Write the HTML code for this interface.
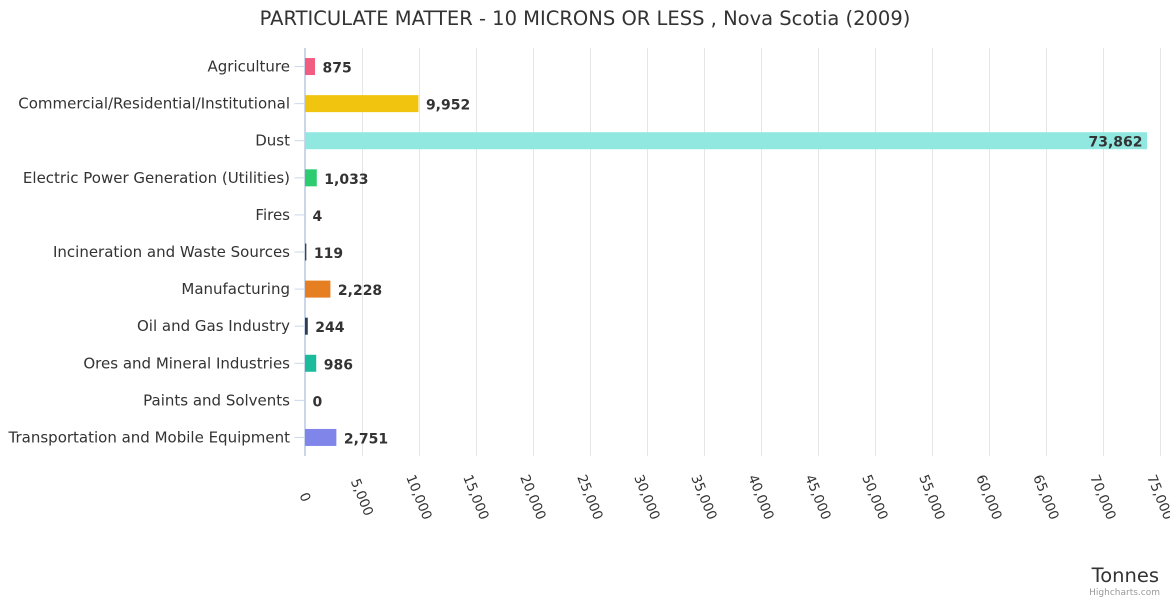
<!DOCTYPE html>
<html><head><meta charset="utf-8"><style>
body{margin:0;background:#fff;font-family:"Liberation Sans","DejaVu Sans",sans-serif}
svg text{font-family:"DejaVu Sans","Liberation Sans",sans-serif}
</style></head><body>
<svg id="chart" width="1170" height="600" xmlns="http://www.w3.org/2000/svg">
<text x="585" y="25" text-anchor="middle" font-size="19.5" fill="#333">PARTICULATE MATTER - 10 MICRONS OR LESS , Nova Scotia (2009)</text>
<g id="grid"></g><g id="bars"></g><g id="labels"></g><g id="ticks"></g>
<text x="1159" y="582" text-anchor="end" font-size="19.5" fill="#333">Tonnes</text>
<text x="1160" y="595" text-anchor="end" font-size="9" fill="#999">Highcharts.com</text>
</svg>
<script>
const categories=["Agriculture","Commercial/Residential/Institutional","Dust","Electric Power Generation (Utilities)","Fires","Incineration and Waste Sources","Manufacturing","Oil and Gas Industry","Ores and Mineral Industries","Paints and Solvents","Transportation and Mobile Equipment"];
const values=[875,9952,73862,1033,4,119,2228,244,986,0,2751];
const colors=["#f15c80","#f1c40f","#91e8e1","#2ecc71","#7cb5ec","#434348","#e67e22","#2c3e50","#1abc9c","#8085e9","#8085e9"];
const tickValues=[0,5000,10000,15000,20000,25000,30000,35000,40000,45000,50000,55000,60000,65000,70000,75000];
const NS="http://www.w3.org/2000/svg";
const x0=304.5,x1=1159.5,plotTop=48,plotBottom=456,xmax=75000;
const xs=v=>x0+(v/xmax)*(x1-x0);
const band=(plotBottom-plotTop)/categories.length;
const yc=i=>plotTop+band*(i+0.5);
const fmt=v=>v.toLocaleString("en-US");
function mk(tag,attrs,parent,txt){const e=document.createElementNS(NS,tag);for(const k in attrs)e.setAttribute(k,attrs[k]);if(txt!==undefined)e.textContent=txt;document.getElementById(parent).appendChild(e);return e;}
tickValues.forEach(t=>{
  const x=Math.round(xs(t))+0.5;
  const g=mk("line",{x1:x,x2:x,y1:plotTop,y2:plotBottom,stroke:t===0?"#ccd6eb":"#e6e6e6","stroke-width":1},"grid");
  
  
  const l=mk("text",{x:x,y:502,"text-anchor":"middle","font-size":13.5,fill:"#333",transform:`rotate(68 ${x} 497)`},"ticks",fmt(t));
  
  
});
categories.forEach((c,i)=>{
  const y=yc(i);
  const tk=mk("line",{x1:x0-10,x2:x0,y1:y,y2:y,stroke:"#ccd6eb"},"grid");
  
  
  const cl=mk("text",{x:290,y:y+5,"text-anchor":"end","font-size":15,fill:"#333"},"ticks",c);
  
  
  const w=xs(values[i])-x0;
  const b=mk("rect",{x:x0+0.5,y:y-8.5,width:Math.max(w,0),height:17,fill:colors[i]},"bars");
  
  
  const inside=w>700;
  const vl=mk("text",{x:inside?x0+w-4:x0+w+8,y:y+6,"text-anchor":inside?"end":"start","font-size":14,"font-weight":"bold",fill:"#333"},"labels",fmt(values[i]));
  
  
});
const ax=mk("line",{x1:x0,x2:x0,y1:plotTop,y2:plotBottom,stroke:"#ccd6eb"},"grid");


</script>
</body></html>
